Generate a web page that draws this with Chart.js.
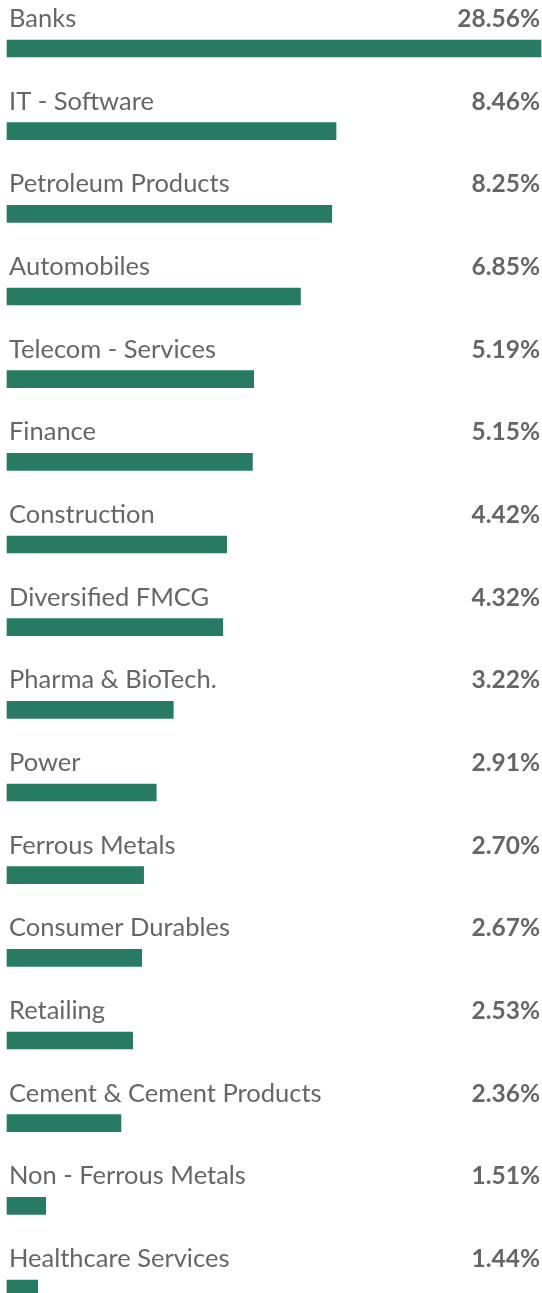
<!DOCTYPE html>
<html>
<head>
<meta charset="utf-8">
<title>Sector Allocation</title>
<script src="https://cdn.jsdelivr.net/npm/chart.js@4.4.1/dist/chart.umd.min.js"></script>
<style>
  html, body { margin: 0; padding: 0; background: #ffffff; }
  canvas { display: block; }
</style>
</head>
<body>
<canvas id="myChart" width="542" height="1293"></canvas>
<script>
// sector names and their weight in the portfolio (%)
const sectors = [
  "Banks",
  "IT - Software",
  "Petroleum Products",
  "Automobiles",
  "Telecom - Services",
  "Finance",
  "Construction",
  "Diversified FMCG",
  "Pharma & BioTech.",
  "Power",
  "Ferrous Metals",
  "Consumer Durables",
  "Retailing",
  "Cement & Cement Products",
  "Non - Ferrous Metals",
  "Healthcare Services"
];
const weights = [28.56, 8.46, 8.25, 6.85, 5.19, 5.15, 4.42, 4.32, 3.22, 2.91, 2.70, 2.67, 2.53, 2.36, 1.51, 1.44];

const barColor = "#267b62";
const textColor = "#666666";
const fontFamily = "Lato, 'Open Sans', sans-serif";

// writes the sector name above each bar and the weight on the right
const rowLabels = {
  id: "rowLabels",
  afterDatasetsDraw(chart) {
    const ctx = chart.ctx;
    const meta = chart.getDatasetMeta(0);
    ctx.save();
    ctx.textBaseline = "alphabetic";
    meta.data.forEach((bar, i) => {
      const y = bar.y - 21.5;
      ctx.fillStyle = textColor;
      ctx.font = "400 25.5px " + fontFamily;
      ctx.textAlign = "left";
      ctx.fillText(sectors[i], 9, y);
      ctx.font = "700 24.5px " + fontFamily;
      ctx.textAlign = "right";
      ctx.fillText(weights[i].toFixed(2) + "%", 540, y);
    });
    ctx.restore();
  }
};

const ctx = document.getElementById("myChart").getContext("2d");

new Chart(ctx, {
  type: "bar",
  data: {
    labels: sectors,
    datasets: [
      {
        data: weights,
        backgroundColor: barColor,
        borderWidth: 0,
        borderSkipped: false,
        barThickness: 17,
        clip: false
      }
    ]
  },
  options: {
    indexAxis: "y",
    responsive: false,
    animation: false,
    layout: {
      padding: { top: 48.5, bottom: 4.5, left: 7, right: 1 }
    },
    scales: {
      x: {
        type: "logarithmic",
        display: false,
        min: 1.2,
        max: Math.max(...weights)
      },
      y: {
        display: false,
        offset: false
      }
    },
    plugins: {
      legend: { display: false },
      tooltip: { enabled: false }
    }
  },
  plugins: [rowLabels]
});
</script>
</body>
</html>
